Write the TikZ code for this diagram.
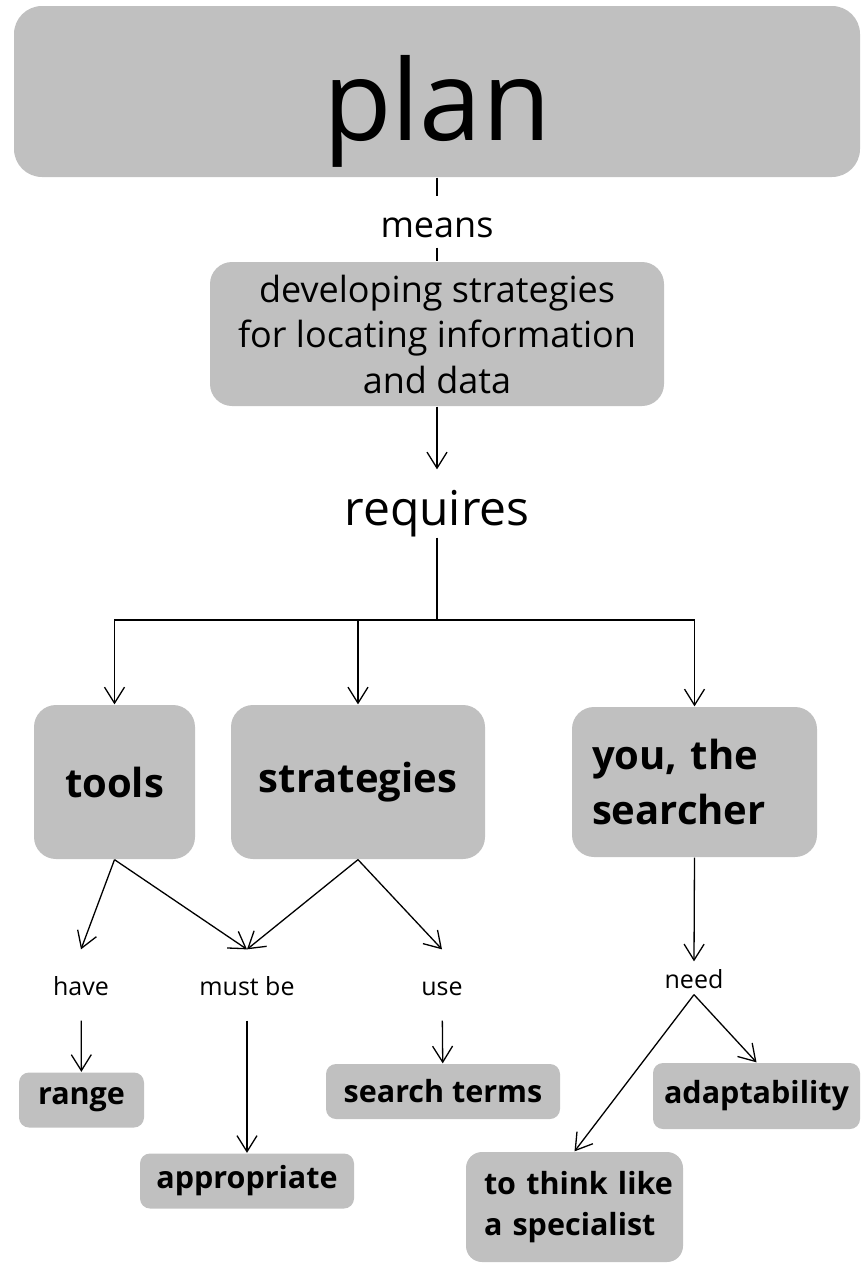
\documentclass[tikz,border=0pt]{standalone}
\usepackage{fontspec}
\setmainfont{Open Sans}
\usetikzlibrary{arrows.meta}
\definecolor{boxgray}{RGB}{192,192,192}

\begin{document}
\begin{tikzpicture}[x=1pt,y=-1pt,->,>={Straight Barb[length=16pt,width=20pt]},
			line width=1.3pt]
			\tikzstyle{box}=[fill=boxgray,draw=none,rounded corners=22pt,inner sep=0pt,align=center]
			\tikzstyle{small box}=[box,rounded corners=10pt,minimum height=55pt,font=\fontsize{30.5}{41}\selectfont\bfseries]
			\tikzstyle{big box}=[box,minimum height=154pt,font=\fontsize{40}{55}\selectfont\bfseries]
			\tikzstyle{lbl}=[inner sep=0pt,anchor=base,font=\fontsize{25}{25}\selectfont]
			\useasboundingbox (0,0) rectangle (860,1264);
			
			\node[box,rounded corners=28pt,minimum width=846pt,minimum height=171pt,
			text height=115pt,text depth=18pt,
			font=\fontsize{112}{112}\selectfont] (plan) at (437,91.5) {plan};
			\node[lbl,font=\fontsize{36}{36}\selectfont,text height=40pt,text depth=10pt]
			(means) at (437,237) {means};
			\node[box,minimum width=454pt,minimum height=144pt,font=\fontsize{36}{45.5}\selectfont]
			(dev) at (437,334) {developing strategies\\for locating information\\and data};
			\node[lbl,font=\fontsize{48}{48}\selectfont,text height=55pt,text depth=12pt]
			(req) at (437,525) {requires};
			\coordinate (J) at (437,620);
			
			\node[big box,minimum width=161pt] (tools) at (114.5,782) {tools};
			\node[big box,minimum width=254pt] (strat) at (358,782) {strategies};
			\node[big box,minimum height=150pt,text width=205pt,inner xsep=20pt,align=left]
			(you) at (694.5,782) {you, the\\searcher};
			
			\node[lbl,text height=45pt,text depth=25pt] (have)   at (81,995)  {have};
			\node[lbl,text height=45pt,text depth=25pt] (mustbe) at (247,995) {must be};
			\node[lbl,text height=45pt,text depth=25pt] (use)    at (442,995) {use};
			\node[lbl,text height=26pt,text depth=6pt]  (need)   at (694,988) {need};
			
			\node[small box,minimum width=125pt] (range) at (81.5,1100) {range};
			\node[small box,minimum width=214pt] (approp) at (247,1181) {appropriate};
			\node[small box,minimum width=234pt] (terms) at (443,1091.5) {search terms};
			\node[small box,minimum width=207pt,minimum height=66pt] (adapt) at (756.5,1096) {adaptability};
			\node[small box,rounded corners=16pt,minimum height=110pt,text width=203pt,
			inner xsep=7pt,align=left] (think) at (574.5,1207) {\hspace*{11pt}to think like\\\hspace*{11pt}a specialist};
			
			\path (plan) edge[-] (means)
			(means) edge[-] (dev)
			(dev) edge (req)
			(req) edge[-] (J);
			\draw (J) -| (tools.north);
			\draw (J) -| (strat.north);
			\draw (J) -| (you.north);
			
			\path (tools.south) edge (have.north)
			(tools.south) edge (mustbe.north)
			(strat.south) edge (mustbe.north)
			(strat.south) edge (use.north)
			(you.south) edge (need.north)
			(have) edge (range)
			(mustbe) edge (approp)
			(use) edge (terms)
			(need.south) edge (think.north)
			(need.south) edge (adapt.north);
			\end{tikzpicture}
\end{document}
